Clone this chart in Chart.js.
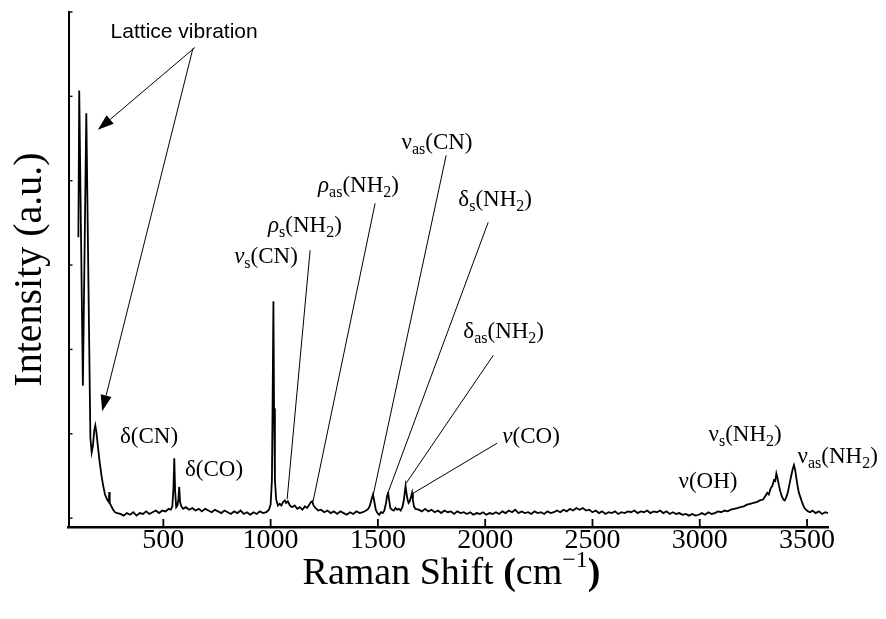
<!DOCTYPE html>
<html><head><meta charset="utf-8">
<script src="https://cdn.jsdelivr.net/npm/chart.js@4.4.1/dist/chart.umd.min.js"></script>
<style>html,body{margin:0;padding:0;background:#fff;}#wrap{width:886px;height:619px;}</style>
</head><body><div id="wrap"><canvas id="c" width="886" height="619"></canvas></div>
<script>
// Raman shift (cm^-1)
const ramanShift = [
 104,108,125,141,160,166,172,178,183,188,195,203,212,220,228,238,246,248,250,258,266,275,285,
 300,315,330,345,360,375,390,405,420,435,450,465,480,495,510,525,535,
 542,547,551,555,560,566,570,574,578,584,592,
 605,620,635,650,665,680,695,710,725,740,755,770,785,800,815,830,845,860,875,890,905,920,935,950,965,980,992,
 1000,1006,1010,1013,1016,1020,1026,1034,
 1042,1050,1058,1066,1072,1080,1090,1100,1112,1124,1136,1148,1160,1170,1180,1188,1194,1200,1210,1222,
 1235,1250,1265,1280,1295,1310,1325,1340,1355,1370,1385,1400,1415,1430,1445,1455,
 1463,1470,1477,1483,1490,1498,1506,1514,1522,1530,1538,1543,1547,1552,1558,1566,1574,1582,1590,1598,
 1606,1614,1620,1625,1629,1633,1638,1643,1648,1655,1659,1663,1668,1675,
 1690,1705,1720,1735,1750,1765,1780,1795,1810,1825,1840,1855,1870,1885,1900,1915,1930,1945,1960,1975,
 1990,2005,2020,2035,2050,2065,2080,2095,2110,2125,2140,2155,2170,2185,2200,2215,2230,2245,2260,2275,
 2290,2305,2320,2335,2350,2365,2380,2395,2410,2425,2440,2455,2470,2485,2500,2515,2530,2545,2560,2575,
 2590,2605,2620,2635,2650,2665,2680,2695,2710,2725,2740,2755,2770,2785,2800,2815,2830,2845,2860,2875,
 2890,2905,2920,2935,2950,2965,2980,
 2995,3010,3025,3040,3055,3070,3085,3100,3115,3130,3145,3160,3175,3190,3205,3220,3235,3250,3265,3280,
 3295,3305,3315,3322,3330,3338,3346,3352,3357,3362,3368,3375,3382,3390,3396,3402,3410,3418,3426,3433,
 3439,3444,3450,3456,3462,3470,3478,3486,3495,3505,3515,3525,3540,3555,3570,3585,3598
];
// Intensity (a.u.)
const intensity = [
 3.33,5.07,1.57,4.80,0.95,0.78,0.86,1.04,1.10,1.02,0.85,0.67,0.50,0.38,0.28,0.22,0.19,0.31,0.18,0.14,0.10,0.07,0.06,
 0.05,0.03,0.06,0.04,0.07,0.03,0.06,0.05,0.08,0.05,0.07,0.09,0.06,0.09,0.08,0.11,0.10,
 0.14,0.35,0.71,0.32,0.13,0.15,0.22,0.37,0.19,0.14,0.11,
 0.13,0.10,0.12,0.09,0.11,0.08,0.11,0.09,0.07,0.10,0.08,0.06,0.09,0.07,0.05,0.08,0.06,0.09,0.05,0.07,0.04,0.07,0.05,0.08,0.06,0.07,0.10,
 0.16,0.45,1.60,2.57,1.30,0.45,0.22,0.15,
 0.17,0.15,0.19,0.21,0.18,0.20,0.15,0.13,0.15,0.11,0.13,0.10,0.14,0.12,0.16,0.19,0.20,0.15,0.12,0.09,
 0.10,0.07,0.09,0.06,0.08,0.05,0.08,0.06,0.04,0.07,0.05,0.08,0.06,0.07,0.09,0.11,
 0.15,0.22,0.28,0.20,0.10,0.06,0.04,0.07,0.06,0.09,0.18,0.27,0.31,0.22,0.12,0.10,0.09,0.12,0.10,0.11,
 0.09,0.13,0.20,0.30,0.38,0.30,0.22,0.18,0.20,0.26,0.30,0.22,0.14,0.11,
 0.10,0.08,0.11,0.08,0.10,0.07,0.09,0.06,0.09,0.07,0.08,0.05,0.08,0.06,0.07,0.05,0.07,0.04,0.06,0.05,
 0.07,0.04,0.06,0.05,0.07,0.05,0.08,0.06,0.09,0.07,0.10,0.06,0.08,0.06,0.07,0.05,0.08,0.06,0.07,0.05,
 0.08,0.06,0.07,0.09,0.07,0.10,0.08,0.11,0.09,0.12,0.10,0.12,0.09,0.10,0.07,0.09,0.06,0.08,0.05,0.07,
 0.06,0.08,0.05,0.07,0.06,0.08,0.07,0.09,0.06,0.08,0.07,0.09,0.06,0.08,0.07,0.09,0.06,0.08,0.05,0.07,
 0.05,0.06,0.04,0.05,0.03,0.05,0.03,
 0.04,0.06,0.04,0.07,0.05,0.06,0.08,0.07,0.09,0.08,0.10,0.11,0.12,0.13,0.14,0.16,0.17,0.18,0.19,0.21,
 0.22,0.26,0.30,0.28,0.35,0.38,0.45,0.44,0.53,0.48,0.40,0.32,0.26,0.22,0.21,0.24,0.30,0.40,0.50,0.58,
 0.63,0.58,0.48,0.38,0.30,0.24,0.18,0.13,0.10,0.08,0.07,0.09,0.06,0.08,0.05,0.07,0.06
];
const xTicks = [500,1000,1500,2000,2500,3000,3500];
const xTickLabels = ['500','1000','1500','2000','2500','3000','3500'];
const yTicks = [0,1,2,3,4,5,6];
const xTitle = [['Raman Shift ','n'],['(','b'],['cm','n'],['\u22121','sup'],[')','b']];
const yTitle = 'Intensity (a.u.)';

// band labels: left edge and vertical centre in data units
const bandLabels = [
 {text:'δ(CN)', x:298, y:0.96},
 {text:'δ(CO)', x:601, y:0.569},
 {text:'*ν*_{s}(CN)', x:830, y:3.10},
 {text:'*ρ*_{s}(NH_{2})', x:988, y:3.46},
 {text:'*ρ*_{as}(NH_{2})', x:1221, y:3.934},
 {text:'ν_{as}(CN)', x:1610, y:4.45},
 {text:'δ_{s}(NH_{2})', x:1875, y:3.768},
 {text:'δ_{as}(NH_{2})', x:1898, y:2.204},
 {text:'*ν*(CO)', x:2080, y:0.96},
 {text:'ν(OH)', x:2901, y:0.427},
 {text:'ν_{s}(NH_{2})', x:3041, y:0.983},
 {text:'ν_{as}(NH_{2})', x:3456, y:0.723}
];
const latticeLabel = {text:'Lattice vibration', x:597, y:5.758};
// leader lines [x1,y1,x2,y2] in data units
const leaderLines = [
 [1184,3.175,1077,0.225],
 [1487,3.732,1198,0.201],
 [1818,4.30,1478,0.272],
 [2014,3.507,1548,0.308],
 [2038,1.931,1632,0.415],
 [2056,0.889,1665,0.296]
];
const arrowLines = [
 [648,5.581,195,4.603],
 [638,5.569,215,1.268]
];

const SERIF = '"Liberation Serif","Times New Roman",serif';
function parseRich(s){
  const out=[]; const re=/(_\{[^}]*\}|\*[^*]*\*|[^_*]+)/g; let m;
  while((m=re.exec(s))){const t=m[0];
    if(t.startsWith('_{')) out.push({t:t.slice(2,-1),k:'sub'});
    else if(t.startsWith('*')) out.push({t:t.slice(1,-1),k:'it'});
    else out.push({t:t,k:'n'});}
  return out;
}
function drawRich(ctx,s,x,cy,size){
  const sub=Math.round(size*0.7);
  const base=cy+size*0.27;
  let cx=x;
  parseRich(s).forEach(p=>{
    if(p.k==='sub'){ctx.font=sub+'px '+SERIF; ctx.fillText(p.t,cx,base+5); }
    else {ctx.font=(p.k==='it'?'italic ':'')+size+'px '+SERIF; ctx.fillText(p.t,cx,base);}
    cx+=ctx.measureText(p.t).width;
  });
}
const annotate = {
  id:'annotate',
  afterDraw(chart){
    const {ctx, chartArea:ca, scales:{x,y}} = chart;
    const X=v=>x.getPixelForValue(v), Y=v=>y.getPixelForValue(v);
    ctx.save();
    ctx.strokeStyle='#000'; ctx.fillStyle='#000';
    // inward tick marks
    ctx.lineWidth=1.8;
    x.ticks.forEach(t=>{const p=X(t.value);ctx.beginPath();ctx.moveTo(p,ca.bottom);ctx.lineTo(p,ca.bottom-8);ctx.stroke();});
    ctx.lineWidth=1.4;
    y.ticks.forEach(t=>{const p=Y(t.value);ctx.beginPath();ctx.moveTo(ca.left,p);ctx.lineTo(ca.left+4,p);ctx.stroke();});
    // leader lines
    ctx.lineWidth=1;
    leaderLines.forEach(([a,b,c,d])=>{ctx.beginPath();ctx.moveTo(X(a),Y(b));ctx.lineTo(X(c),Y(d));ctx.stroke();});
    // arrows
    arrowLines.forEach(([a,b,c,d])=>{
      const x1=X(a),y1=Y(b),x2=X(c),y2=Y(d);
      const ang=Math.atan2(y2-y1,x2-x1), L=16, W=5.5;
      const bx=x2-L*Math.cos(ang), by=y2-L*Math.sin(ang);
      ctx.beginPath();ctx.moveTo(x1,y1);ctx.lineTo(bx,by);ctx.stroke();
      ctx.beginPath();ctx.moveTo(x2,y2);
      ctx.lineTo(bx+W*Math.sin(ang),by-W*Math.cos(ang));
      ctx.lineTo(bx-W*Math.sin(ang),by+W*Math.cos(ang));
      ctx.closePath();ctx.fill();
    });
    // labels
    ctx.textAlign='left'; ctx.textBaseline='alphabetic';
    bandLabels.forEach(l=>drawRich(ctx,l.text,X(l.x),Y(l.y),23));
    ctx.font='21px "Liberation Sans",Arial,sans-serif';
    ctx.textAlign='center'; ctx.textBaseline='middle';
    ctx.fillText(latticeLabel.text,X(latticeLabel.x),Y(latticeLabel.y));
    // x-axis title
    ctx.textAlign='left'; ctx.textBaseline='alphabetic';
    const fonts={n:'38px '+SERIF,b:'bold 38px '+SERIF,sup:'24px '+SERIF};
    let w=0; xTitle.forEach(([t,k])=>{ctx.font=fonts[k];w+=ctx.measureText(t).width;});
    let cx=(ca.left+ca.right)/2+3-w/2; const base=chart.height-35;
    xTitle.forEach(([t,k])=>{ctx.font=fonts[k];ctx.fillText(t,cx,k==='sup'?base-17:base);cx+=ctx.measureText(t).width;});
    ctx.restore();
  }
};

const points = ramanShift.map((v,i)=>({x:v,y:intensity[i]}));
new Chart(document.getElementById('c'),{
  type:'scatter',
  data:{datasets:[{data:points,showLine:true,borderColor:'#000',borderWidth:1.8,pointRadius:0,tension:0,fill:false}]},
  options:{
    responsive:false, animation:false, devicePixelRatio:1,
    layout:{padding:{left:0,right:57.5,top:12,bottom:0}},
    plugins:{legend:{display:false},tooltip:{enabled:false}},
    scales:{
      x:{type:'linear',min:58,max:3600,
        afterBuildTicks:s=>{s.ticks=xTicks.map(v=>({value:v}));},
        afterFit:s=>{s.height=92;},
        ticks:{color:'#000',padding:-3,font:{family:SERIF,size:28},callback:(v)=>xTickLabels[xTicks.indexOf(v)]},
        grid:{display:true,drawOnChartArea:false,drawTicks:false},
        border:{display:true,color:'#000',width:2.5},
        title:{display:false}
      },
      y:{type:'linear',min:-0.105,max:6,
        afterBuildTicks:s=>{s.ticks=yTicks.map(v=>({value:v}));},
        afterFit:s=>{s.width=68.5;},
        ticks:{display:false},
        grid:{display:true,drawOnChartArea:false,drawTicks:false},
        border:{display:true,color:'#000',width:2},
        title:{display:true,text:yTitle,color:'#000',font:{family:SERIF,size:40,weight:'normal'},padding:{top:6,bottom:0}}
      }
    }
  },
  plugins:[annotate]
});
</script>
</body></html>
